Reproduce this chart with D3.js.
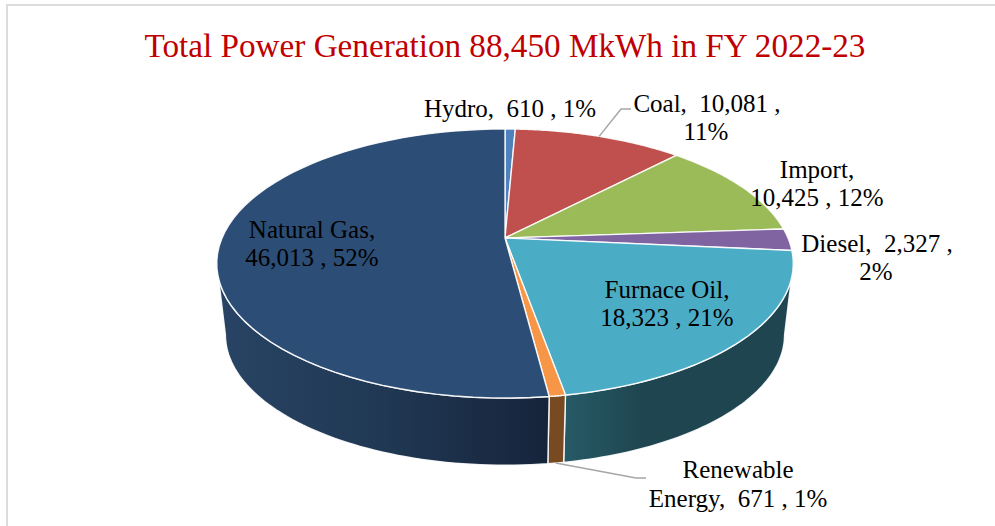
<!DOCTYPE html>
<html><head><meta charset="utf-8">
<script src="https://cdn.jsdelivr.net/npm/d3@7"></script>
<style>
html,body{margin:0;padding:0;background:#fff;}
svg{display:block;}
text{font-family:"Liberation Serif","DejaVu Serif",serif;white-space:pre;}
</style></head><body>
<svg id="chart" width="995" height="526"></svg>
<script>
const titleText = "Total Power Generation 88,450 MkWh in FY 2022-23";
const categories = ["Hydro","Coal","Import","Diesel","Furnace Oil","Renewable Energy","Natural Gas"];
const values = [610,10081,10425,2327,18323,671,46013];
const percents = ["1%","11%","12%","2%","21%","1%","52%"];
const topColors = ["#4f81bd","#c0504d","#9bbb59","#8064a2","#4bacc6","#f79646","#2c4d75"];
const wallColors = ["#2f4d71","#733230","#5d7035","#4d3c61","#1f4650","#774a22","#1f3654"];

const labelLines = [
  [["Hydro,  610 , 1%",510,117]],
  [["Coal,  10,081 ,",707,112],["11%",706,140]],
  [["Import,",817,178],["10,425 , 12%",817,206]],
  [["Diesel,  2,327 ,",877,252],["2%",876,280]],
  [["Furnace Oil,",667,298],["18,323 , 21%",667,326]],
  [["Renewable",738,478],["Energy,  671 , 1%",738,507]],
  [["Natural Gas,",312,238],["46,013 , 52%",312,266]]
];

const svg = d3.select("#chart");
const defs = svg.append("defs");

svg.append("path").attr("d","M7,526V5H995").attr("fill","none").attr("stroke","#dcdcdc").attr("stroke-width",2);

svg.append("text").attr("x",505).attr("y",57).attr("text-anchor","middle")
  .attr("font-size",33.2).attr("fill","#c00000").text(titleText);

const persp = 0.1896, ax = 283, by = 129.7, cx = 505, topY = 238, botY = 310, botS = 0.97;
const project = (t, s, y0) => {
  const d = 1 + persp*Math.cos(t);
  return [cx + s*ax*Math.sin(t)/d, y0 - s*by*Math.cos(t)/d];
};
const topPt = t => project(t,1,topY);
const botPt = t => project(t,botS,botY);
const arcPts = (a,b,f) => d3.range(0,61).map(i => f(a+(b-a)*i/60));
const lineGen = d3.line();

const arcs = d3.pie().sort(null).startAngle(0).endAngle(2*Math.PI)(values);

const visA = Math.acos(-persp), visB = 2*Math.PI - visA;
const gradNat = defs.append("linearGradient").attr("id","wallNat")
  .attr("gradientUnits","userSpaceOnUse").attr("x1",220).attr("x2",548).attr("y1",0).attr("y2",0);
gradNat.append("stop").attr("offset",0).attr("stop-color","#284364");
gradNat.append("stop").attr("offset",0.5).attr("stop-color","#203853");
gradNat.append("stop").attr("offset",1).attr("stop-color","#16243b");
const gradFur = defs.append("linearGradient").attr("id","wallFur")
  .attr("gradientUnits","userSpaceOnUse").attr("x1",566).attr("x2",640).attr("y1",0).attr("y2",0);
gradFur.append("stop").attr("offset",0).attr("stop-color","#265a66");
gradFur.append("stop").attr("offset",1).attr("stop-color","#1f4650");
const wallFill = i => i===6 ? "url(#wallNat)" : i===4 ? "url(#wallFur)" : wallColors[i];

svg.append("g").selectAll("path")
  .data(arcs.filter(d => d.endAngle>visA && d.startAngle<visB))
  .join("path")
  .attr("d", d => {
    const a = Math.max(d.startAngle,visA), b = Math.min(d.endAngle,visB);
    return lineGen(arcPts(a,b,topPt).concat(arcPts(b,a,botPt))) + "Z";
  })
  .attr("fill", d => wallFill(d.index))
  .attr("stroke","#fff").attr("stroke-opacity",0.9).attr("stroke-width",1.4).attr("stroke-linejoin","round");

svg.append("g").selectAll("path")
  .data(arcs)
  .join("path")
  .attr("d", d => lineGen([[cx,topY]].concat(arcPts(d.startAngle,d.endAngle,topPt))) + "Z")
  .attr("fill", d => topColors[d.index])
  .attr("stroke","#fff").attr("stroke-opacity",0.9).attr("stroke-width",1.4).attr("stroke-linejoin","round");

const mid = d => (d.startAngle+d.endAngle)/2;
const leader = (pt, elbow, end) => svg.append("path").attr("d",lineGen([pt,elbow,end]))
  .attr("fill","none").attr("stroke","#a6a6a6").attr("stroke-width",1.5);
leader(topPt(mid(arcs[1])),[621,109],[631,109]);
leader(botPt(mid(arcs[5])),[636,478],[646,478]);

svg.append("g").selectAll("text")
  .data(labelLines.flat())
  .join("text")
  .attr("x",d=>d[1]).attr("y",d=>d[2]).attr("text-anchor","middle")
  .attr("font-size",25).attr("fill","#000").text(d=>d[0]);
</script>
</body></html>
